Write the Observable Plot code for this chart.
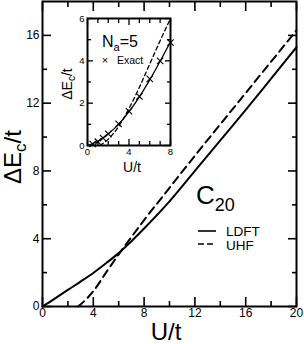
<!DOCTYPE html>
<html><head><meta charset="utf-8">
<script src="https://cdn.jsdelivr.net/npm/d3@7"></script>
<script src="https://cdn.jsdelivr.net/npm/@observablehq/plot@0.6"></script>
<style>
body{margin:0;background:#fff;}
#wrap{position:relative;width:304px;height:344px;}
#wrap svg{position:absolute;overflow:visible;}
</style></head><body><div id="wrap"></div>
<script>
// ---- main panel data (C20) ----
const U_ldft = [0,1,2,3,4,5,6,7,8,10,12,14,16,18,20];
const E_ldft = [0,0.48,0.98,1.47,1.98,2.55,3.15,3.85,4.6,6.2,8.0,9.8,11.6,13.45,15.3];
const U_uhf  = [2.8,3,4,5,6,7,8,10,12,14,16,18,20];
const E_uhf  = [0,0.12,0.9,2.0,3.08,4.1,5.1,7.0,8.9,10.75,12.6,14.45,16.3];
const xMajor = [0,4,8,12,16,20];
const xMinor = [2,6,10,14,18];
const yMajor = [0,4,8,12,16];
const yMinor = [2,6,10,14];
// ---- inset data (Na=5) ----
const u_in_ldft = [0,1,2,3,4,5,6,7,8];
const e_in_ldft = [0,0.2,0.55,1.0,1.6,2.3,3.1,3.98,4.9];
const u_in_uhf  = [1.2,2,3,4,5,6,7,8];
const e_in_uhf  = [0,0.3,0.9,1.75,2.75,3.85,4.95,6.0];
const u_exact   = [0.5,1,1.5,2,3,4,5,6,7,8];
const e_exact   = [0.07,0.18,0.35,0.55,1.02,1.62,2.32,3.15,4.0,4.86];
const ixMajor = [0,4,8], ixMinor = [1,2,3,5,6,7];
const iyMajor = [0,2,4,6], iyMinor = [1,3,5];

const FONT = "'Liberation Sans', Arial, Helvetica, sans-serif";
const rows = (us, es) => us.map((u,i)=>({U:u, E:es[i]}));

function inTicks(anchor, values, size, sw){
  const fn = (anchor==="bottom"||anchor==="top") ? Plot.axisX : Plot.axisY;
  const off = {bottom:{dy:-size}, top:{dy:size}, left:{dx:size}, right:{dx:-size}}[anchor];
  return fn(values, {anchor, tickSize:size, tickFormat:()=>"", label:null, strokeWidth:sw, ...off});
}
function boxTicks(xM, xm, yM, ym, big, small, sw){
  const out = [];
  for (const a of ["bottom","top"]) { out.push(inTicks(a, xM, big, sw), inTicks(a, xm, small, sw)); }
  for (const a of ["left","right"]) { out.push(inTicks(a, yM, big, sw), inTicks(a, ym, small, sw)); }
  return out;
}

const wrap = d3.select("#wrap");

const main = Plot.plot({
  width:304, height:344, marginLeft:42, marginRight:8, marginTop:1, marginBottom:38,
  x:{domain:[0,20]}, y:{domain:[0,18]},
  style:{fontFamily:FONT, fontSize:"12px", background:"transparent", color:"#000"},
  marks:[
    Plot.line(rows(U_ldft,E_ldft), {x:"U", y:"E", curve:"monotone-x", strokeWidth:2, stroke:"#000"}),
    Plot.line(rows(U_uhf,E_uhf), {x:"U", y:"E", curve:"monotone-x", strokeWidth:2, stroke:"#000", strokeDasharray:"8,5"}),
    ...boxTicks(xMajor, xMinor, yMajor, yMinor, 9, 5, 1.6),
    Plot.axisX(xMajor, {anchor:"bottom", tickSize:0, tickPadding:2, label:null}),
    Plot.axisY(yMajor, {anchor:"left", tickSize:0, tickPadding:3, label:null}),
    Plot.frame({strokeWidth:2, stroke:"#000"})
  ]
});
d3.select(main).style("left","0px").style("top","0px");
wrap.node().appendChild(main);

const inset = Plot.plot({
  width:114, height:175, marginLeft:27, marginRight:4, marginTop:18, marginBottom:30,
  x:{domain:[0,8]}, y:{domain:[0,6]},
  style:{fontFamily:FONT, fontSize:"9.5px", background:"transparent", color:"#000"},
  marks:[
    Plot.line(rows(u_in_ldft,e_in_ldft), {x:"U", y:"E", curve:"monotone-x", strokeWidth:1.3, stroke:"#000"}),
    Plot.line(rows(u_in_uhf,e_in_uhf), {x:"U", y:"E", curve:"monotone-x", strokeWidth:1.3, stroke:"#000", strokeDasharray:"4,3"}),
    Plot.dot(rows(u_exact,e_exact), {x:"U", y:"E", symbol:"times", r:3, stroke:"#000", strokeWidth:1.1}),
    ...boxTicks(ixMajor, ixMinor, iyMajor, iyMinor, 6, 4, 1.3),
    Plot.axisX(ixMajor, {anchor:"bottom", tickSize:0, tickPadding:3, label:null}),
    Plot.axisY(iyMajor, {anchor:"left", tickSize:0, tickPadding:3, label:null}),
    Plot.frame({strokeWidth:2, stroke:"#000"})
  ]
});
d3.select(inset).style("left","60px").style("top","0px");
wrap.node().appendChild(inset);

// ---- text overlay ----
const ov = wrap.append("svg").attr("width",304).attr("height",344)
  .style("left","0px").style("top","0px").attr("font-family",FONT).attr("fill","#000");

function sub(sel, parts){
  parts.forEach(([t,s,dy])=>{ const ts = sel.append("tspan").text(t).attr("font-size",s); if (dy) ts.attr("dy",dy); });
  return sel;
}
// main axis labels
sub(ov.append("text").attr("transform","translate(21,157) rotate(-90)").attr("text-anchor","middle"),
  [["ΔE",24,0],["c",17,5],["/t",24,-5]]);
ov.append("text").attr("x",166).attr("y",340).attr("text-anchor","middle").attr("font-size",24).text("U/t");
// C20
sub(ov.append("text").attr("x",196).attr("y",204), [["C",26,0],["20",18,7]]);
// legend
ov.append("line").attr("x1",198).attr("x2",216).attr("y1",231).attr("y2",231).attr("stroke","#000").attr("stroke-width",1.6);
ov.append("line").attr("x1",198).attr("x2",216).attr("y1",244).attr("y2",244).attr("stroke","#000").attr("stroke-width",1.6).attr("stroke-dasharray","6,3");
ov.append("text").attr("x",226).attr("y",236).attr("font-size",13.5).text("LDFT");
ov.append("text").attr("x",226).attr("y",250).attr("font-size",13.5).text("UHF");
// inset labels
sub(ov.append("text").attr("transform","translate(72,84) rotate(-90)").attr("text-anchor","middle"),
  [["ΔE",14,0],["c",10,3],["/t",14,-3]]);
ov.append("text").attr("x",132).attr("y",172).attr("text-anchor","middle").attr("font-size",14).text("U/t");
sub(ov.append("text").attr("x",102).attr("y",47), [["N",16,0],["a",11,4],["=5",16,-4]]);
ov.append("text").attr("x",105).attr("y",64).attr("text-anchor","middle").attr("font-size",11).text("×");
ov.append("text").attr("x",117).attr("y",64).attr("font-size",10.5).text("Exact");
</script></body></html>
